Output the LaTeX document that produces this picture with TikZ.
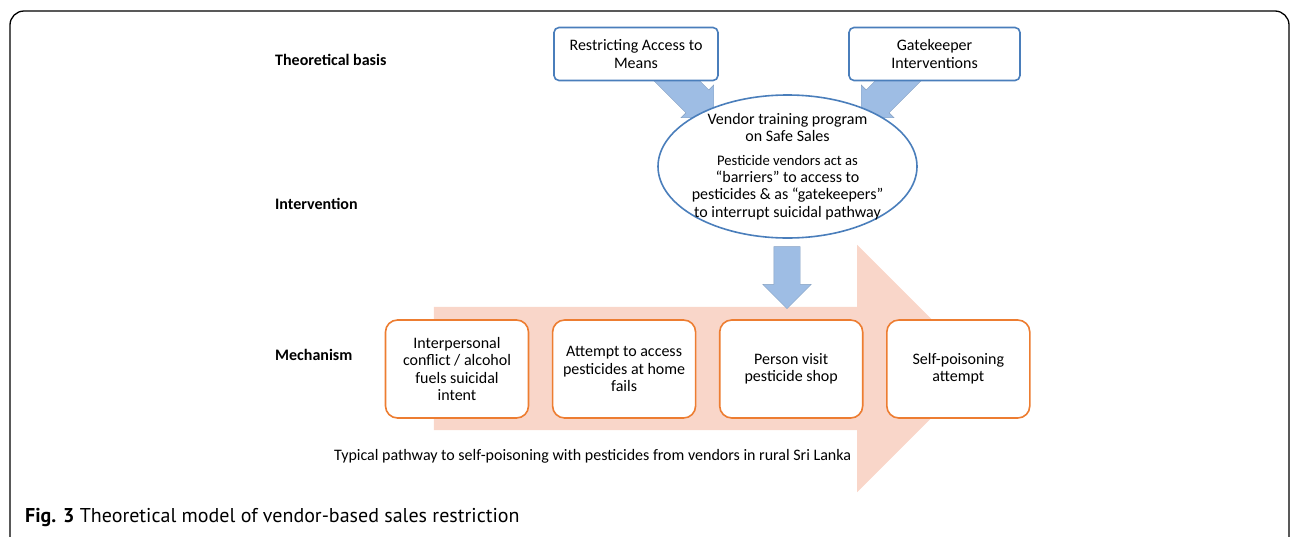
\documentclass[tikz,border=0pt]{standalone}
\usepackage{fontspec}
\setmainfont{Carlito}
\newfontfamily\capfont{PT Sans}
\definecolor{bline}{RGB}{74,126,187}
\definecolor{bfill}{RGB}{158,189,228}
\definecolor{oline}{RGB}{237,125,49}
\definecolor{pfill}{RGB}{249,214,201}
\usetikzlibrary{
  shapes.geometric, % ellipse
  shapes.arrows,    % fat arrows
  positioning       % right=of
}
\tikzset{
    every node/.style = {
        font=\fontsize{16}{17.4}\selectfont,
        inner sep=0pt
    },
    rowlabel/.style = {anchor=west, font=\fontsize{16}{17.4}\selectfont\bfseries},
    theory/.style = {draw=bline, line width=1.6pt, fill=white, rounded corners=5pt,
        minimum height=53pt, align=center},
    plan/.style = {ellipse, draw=bline, line width=1.6pt, fill=white,
        minimum width=259pt, minimum height=143pt},
    stage/.style = {draw=oline, line width=1.6pt, fill=white, rounded corners=12pt,
        minimum width=143pt, minimum height=98pt, align=center},
    feed/.style = {single arrow, fill=bfill, draw=bfill!85!black, line width=0.4pt,
        inner xsep=0pt},
    pathway/.style = {single arrow, fill=pfill, inner xsep=0pt, inner ysep=61.5pt,
        minimum width=247pt, single arrow head extend=62pt, minimum height=547pt}
}

\begin{document}
\begin{tikzpicture}[x=1pt, y=-1pt]
  \useasboundingbox (0,0) rectangle (1290,536);

  %% frame
  \draw [line width=1.3pt, rounded corners=14pt] (10,560) -- (10,11) -- (1289,11) -- (1289,560);

  %% row labels
  \node [rowlabel] (basis) at (275,60) {Theoretical basis};
  \node [rowlabel] (interv) at (275,204) {Intervention};
  \node [rowlabel] (mech) at (275,355) {Mechanism};

  %% mechanism
  \node [pathway] (path) at (676.5,368.5) {};
  \node [stage] (conflict) at (457,369) {Interpersonal\\conflict / alcohol\\fuels suicidal\\intent};
  \node [stage, right=22.5pt of conflict] (homeatt) {Attempt to access\\pesticides at home\\fails};
  \node [stage, right=22.5pt of homeatt] (shop) {Person visit\\pesticide shop};
  \node [stage, right=22.5pt of shop] (selfpois) {Self-poisoning\\attempt};
  \node [anchor=west] (pathtext) at (334,456)
    {Typical pathway to self-poisoning with pesticides from vendors in rural Sri Lanka};

  %% intervention
  \node [feed, inner ysep=16pt, minimum width=46pt, single arrow head extend=7pt, minimum height=68pt, rotate=-45] (feedl) at (684,88) {};
  \node [feed, inner ysep=16pt, minimum width=46pt, single arrow head extend=7pt, minimum height=68pt, rotate=-135] (feedr) at (891,88) {};
  \node [feed, inner ysep=13pt, minimum width=48pt, single arrow head extend=11pt, minimum height=62pt, rotate=-90] (down) at (787,271) {};
  \node [plan] (vtp) at (787.5,166.5) {};
  \node [align=center] (vtptext) at (vtp.center) {Vendor training program\\on Safe Sales\\[6pt]
    \fontsize{14.6}{16.6}\selectfont Pesticide vendors act as\\
    “barriers” to access to\\
    pesticides \& as “gatekeepers”\\
    to interrupt suicidal pathway};

  %% theoretical basis
  \node [theory, minimum width=164pt] (ram) at (636,54) {Restricting Access to\\Means};
  \node [theory, minimum width=171pt] (gki) at (934.5,54) {Gatekeeper\\Interventions};

  %% caption
  \node [anchor=west, font=\capfont\fontsize{20}{22}\selectfont] (caption) at (25,518)
    {\textbf{Fig. 3} Theoretical model of vendor-based sales restriction};

\end{tikzpicture}
\end{document}
